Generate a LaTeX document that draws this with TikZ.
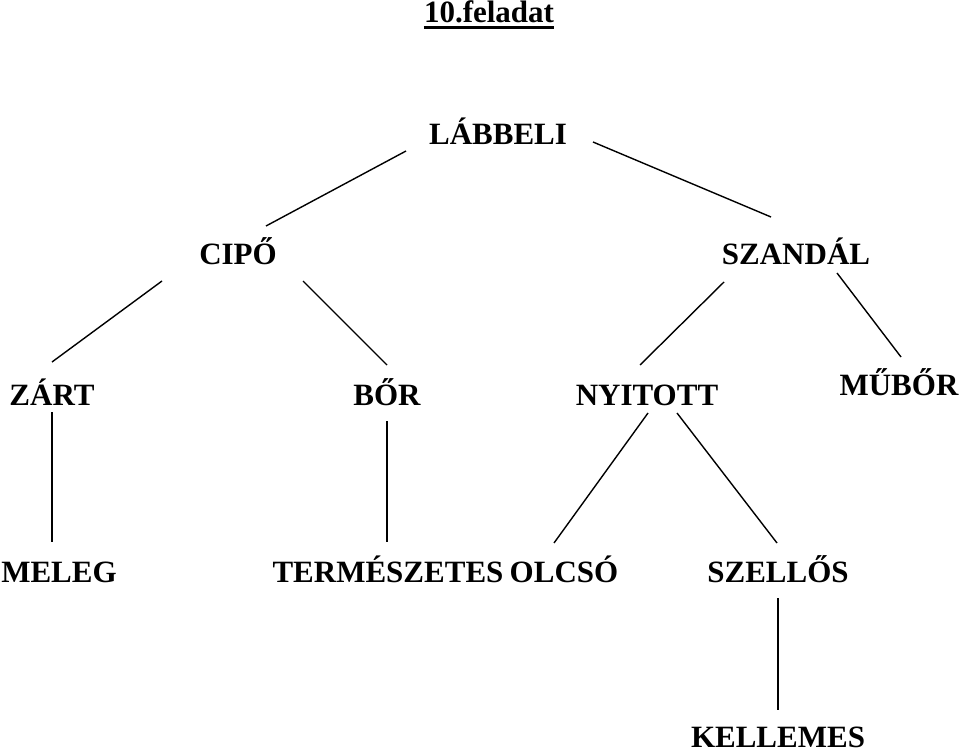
\documentclass[tikz,border=0pt]{standalone}
\usepackage{fontspec}
\setmainfont{Liberation Serif}
\begin{document}
\begin{tikzpicture}[x=1pt,y=-1pt,
  lbl/.style={inner sep=0pt,anchor=base,font=\fontsize{31}{37}\selectfont\bfseries},
  link/.style={line width=1.4pt,black}]
\useasboundingbox (0,0) rectangle (960,751);
% nodes
\node[lbl] (title) at (489,23) {10.feladat};
\node[lbl] (lab) at (498,145) {LÁBBELI};
\node[lbl] (cip) at (238,265) {CIPŐ};
\node[lbl] (sza) at (796,265) {SZANDÁL};
\node[lbl] (zar) at (52,405) {ZÁRT};
\node[lbl] (bor) at (387,405) {BŐR};
\node[lbl] (nyi) at (647,405) {NYITOTT};
\node[lbl] (mub) at (899,395) {MŰBŐR};
\node[lbl] (mel) at (59,582) {MELEG};
\node[lbl] (ter) at (388,582) {TERMÉSZETES};
\node[lbl] (olc) at (564,582) {OLCSÓ};
\node[lbl] (sze) at (778,582) {SZELLŐS};
\node[lbl] (kel) at (778,747) {KELLEMES};
% underline of title
\draw[line width=2.2pt] ([yshift=-4.5pt]title.base west) -- ([yshift=-4.5pt]title.base east);
% connector end points
\coordinate (lab-l) at (406,151);
\coordinate (cip-t) at (266,226);
\coordinate (lab-r) at (593,142);
\coordinate (sza-t) at (771,217);
\coordinate (cip-l) at (162,281);
\coordinate (zar-t) at (52,362);
\coordinate (cip-r) at (303,281);
\coordinate (bor-t) at (387,365);
\coordinate (sza-l) at (724,282);
\coordinate (nyi-t) at (640,365);
\coordinate (sza-r) at (837,273);
\coordinate (mub-t) at (901,357);
\coordinate (zar-b) at (52,412);
\coordinate (mel-t) at (52,542);
\coordinate (bor-b) at (387,421);
\coordinate (ter-t) at (387,542);
\coordinate (nyi-l) at (648,413);
\coordinate (olc-t) at (554,543);
\coordinate (nyi-r) at (677,413);
\coordinate (sze-tt) at (777,543);
\coordinate (sze-b) at (778,598);
\coordinate (kel-t) at (778,710);
% connectors
\draw[link] (lab-l) -- (cip-t);
\draw[link] (lab-r) -- (sza-t);
\draw[link] (cip-l) -- (zar-t);
\draw[link] (cip-r) -- (bor-t);
\draw[link] (sza-l) -- (nyi-t);
\draw[link] (sza-r) -- (mub-t);
\draw[link] (zar-b) -- (mel-t);
\draw[link] (bor-b) -- (ter-t);
\draw[link] (nyi-l) -- (olc-t);
\draw[link] (nyi-r) -- (sze-tt);
\draw[link] (sze-b) -- (kel-t);
\end{tikzpicture}
\end{document}
